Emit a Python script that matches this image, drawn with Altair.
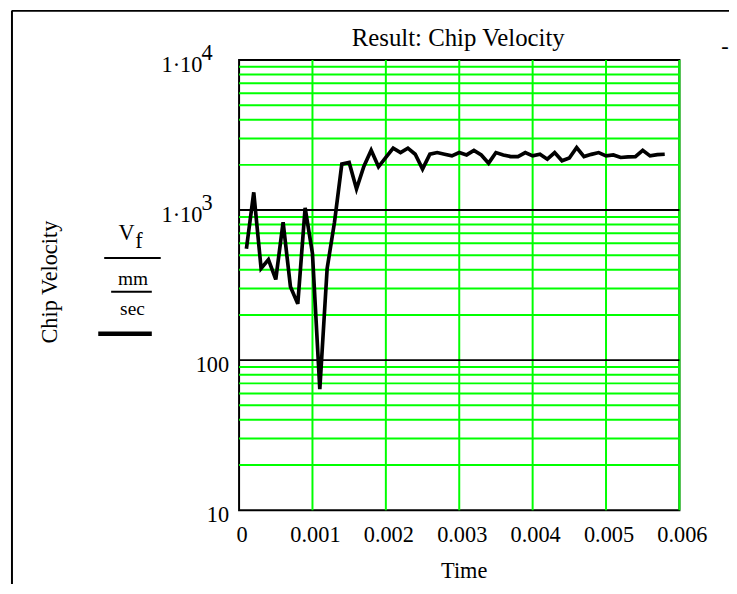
import altair as alt
import pandas as pd

# ---------------- data ----------------
time_s = [0.0001, 0.0002, 0.0003, 0.0004, 0.0005, 0.0006, 0.0007, 0.0008, 0.0009, 0.0010,
          0.0011, 0.0012, 0.0013, 0.0014, 0.0015, 0.0016, 0.0017, 0.0018, 0.0019, 0.0020,
          0.0021, 0.0022, 0.0023, 0.0024, 0.0025, 0.0026, 0.0027, 0.0028, 0.0029, 0.0030,
          0.0031, 0.0032, 0.0033, 0.0034, 0.0035, 0.0036, 0.0037, 0.0038, 0.0039, 0.0040,
          0.0041, 0.0042, 0.0043, 0.0044, 0.0045, 0.0046, 0.0047, 0.0048, 0.0049, 0.0050,
          0.0051, 0.0052, 0.0053, 0.0054, 0.0055, 0.0056, 0.0057, 0.0058]
velocity = [553, 1312, 408, 468, 345, 830, 308, 237, 1034, 513,
            64, 408, 830, 2023, 2074, 1381, 1950, 2506, 1942, 2240,
            2583, 2415, 2583, 2355, 1874, 2355, 2415, 2355, 2296, 2415,
            2330, 2500, 2330, 2053, 2415, 2330, 2270, 2270, 2415, 2296,
            2355, 2183, 2415, 2128, 2220, 2608, 2270, 2350, 2415, 2296,
            2330, 2240, 2260, 2270, 2500, 2296, 2340, 2355]

x_ticks = [0, 0.001, 0.002, 0.003, 0.004, 0.005, 0.006]
x_labels = ["0", "0.001", "0.002", "0.003", "0.004", "0.005", "0.006"]
y_major = [100, 1000]
y_minor = [20, 30, 40, 50, 60, 70, 80, 90,
           200, 300, 400, 500, 600, 700, 800, 900,
           2000, 3000, 4000, 5000, 6000, 7000, 8000, 9000]
y_exp_vals = [10000, 1000]
y_exp_main = ["1·10", "1·10"]
y_exp_sup = ["4", "3"]
y_plain_vals = [100, 10]
y_plain_text = ["100", "10"]

title_text = "Result: Chip Velocity"
x_title = "Time"
y_title = "Chip Velocity"

FONT = "Liberation Serif"
FS = 22.5
GREEN = "#00ff00"
W, H = 444, 454

xscale = alt.Scale(domain=[0, 0.006], nice=False, zero=False)
yscale = alt.Scale(type="log", domain=[10, 10000], nice=False)

df = pd.DataFrame({"t": time_s, "v": velocity})

minor = alt.Chart(pd.DataFrame({"v": y_minor})).mark_rule(color=GREEN, strokeWidth=2).encode(
    y=alt.Y("v:Q", scale=yscale, axis=None))
vgrid = alt.Chart(pd.DataFrame({"t": x_ticks[1:]})).mark_rule(color=GREEN, strokeWidth=2).encode(
    x=alt.X("t:Q", scale=xscale, axis=None))
major = alt.Chart(pd.DataFrame({"v": y_major})).mark_rule(color="black", strokeWidth=2).encode(
    y=alt.Y("v:Q", scale=yscale, axis=None))

line = alt.Chart(df).mark_line(color="black", strokeWidth=3.7).encode(
    x=alt.X("t:Q", scale=xscale, axis=None),
    y=alt.Y("v:Q", scale=yscale, axis=None),
)

xlab = alt.Chart(pd.DataFrame({"t": x_ticks, "lab": x_labels})).mark_text(
    align="center", baseline="alphabetic", dx=3, font=FONT, fontSize=FS, color="black").encode(
    x=alt.X("t:Q", scale=xscale, axis=None), y=alt.value(486), text="lab:N")

exp_df = pd.DataFrame({"v": y_exp_vals, "main": y_exp_main, "sup": y_exp_sup})
plain_df = pd.DataFrame({"v": y_plain_vals, "main": y_plain_text})

exp_main = alt.Chart(exp_df).mark_text(align="right", baseline="alphabetic", dy=12, font=FONT,
                                       fontSize=FS, color="black").encode(
    x=alt.value(-37), y=alt.Y("v:Q", scale=yscale, axis=None), text="main:N")
exp_sup = alt.Chart(exp_df).mark_text(align="left", baseline="alphabetic", dy=0, font=FONT,
                                      fontSize=FS, color="black").encode(
    x=alt.value(-38), y=alt.Y("v:Q", scale=yscale, axis=None), text="sup:N")
plain = alt.Chart(plain_df).mark_text(align="right", baseline="alphabetic", dy=12, font=FONT,
                                      fontSize=FS, color="black").encode(
    x=alt.value(-10), y=alt.Y("v:Q", scale=yscale, axis=None), text="main:N")


def label(text, x, y, size, align="center", angle=0):
    return alt.Chart(pd.DataFrame({"s": [text]})).mark_text(
        align=align, baseline="alphabetic", font=FONT, fontSize=size, color="black",
        angle=angle).encode(
        x=alt.value(x), y=alt.value(y), text="s:N")


def seg(x1, x2, y, w):
    return alt.Chart(pd.DataFrame({"s": [0]})).mark_rule(color="black", strokeWidth=w).encode(
        x=alt.value(x1), x2=alt.value(x2), y=alt.value(y))


def vseg(x, y1, y2, w):
    return alt.Chart(pd.DataFrame({"s": [0]})).mark_rule(color="black", strokeWidth=w).encode(
        x=alt.value(x), y=alt.value(y1), y2=alt.value(y2))


title = label(title_text, 221, -14.5, 25)
xt = label(x_title, 227, 522.5, FS)
yt = label(y_title, -184, 224, FS, angle=270)
v_lbl = label("V", -113.5, 182, FS)
f_lbl = label("f", -101, 190, FS)
frac1 = seg(-136, -79, 199.7, 2)
mm_lbl = label("mm", -107, 227, 19.5)
frac2 = seg(-129, -88, 233.7, 2)
sec_lbl = label("sec", -107.5, 257, 19.5)
legend_line = seg(-142, -88, 276, 4.5)
dash = label("-", 490, -6, FS)
frame_top = seg(-229, 494, -49.5, 2)
frame_left = vseg(-229, -50, 530, 2)

chart = alt.layer(
    minor, vgrid, major, line, xlab, exp_main, exp_sup, plain,
    title, xt, yt, v_lbl, f_lbl, frac1, mm_lbl, frac2, sec_lbl, legend_line, dash,
    frame_top, frame_left,
).properties(
    width=W, height=H,
    autosize=alt.AutoSizeParams(type="none"),
    padding={"left": 233, "top": 50, "right": 50, "bottom": 72},
    background="white",
).configure_view(stroke="black", strokeWidth=2)

chart.save("out.html", embed_options={"renderer": "svg", "actions": False})
